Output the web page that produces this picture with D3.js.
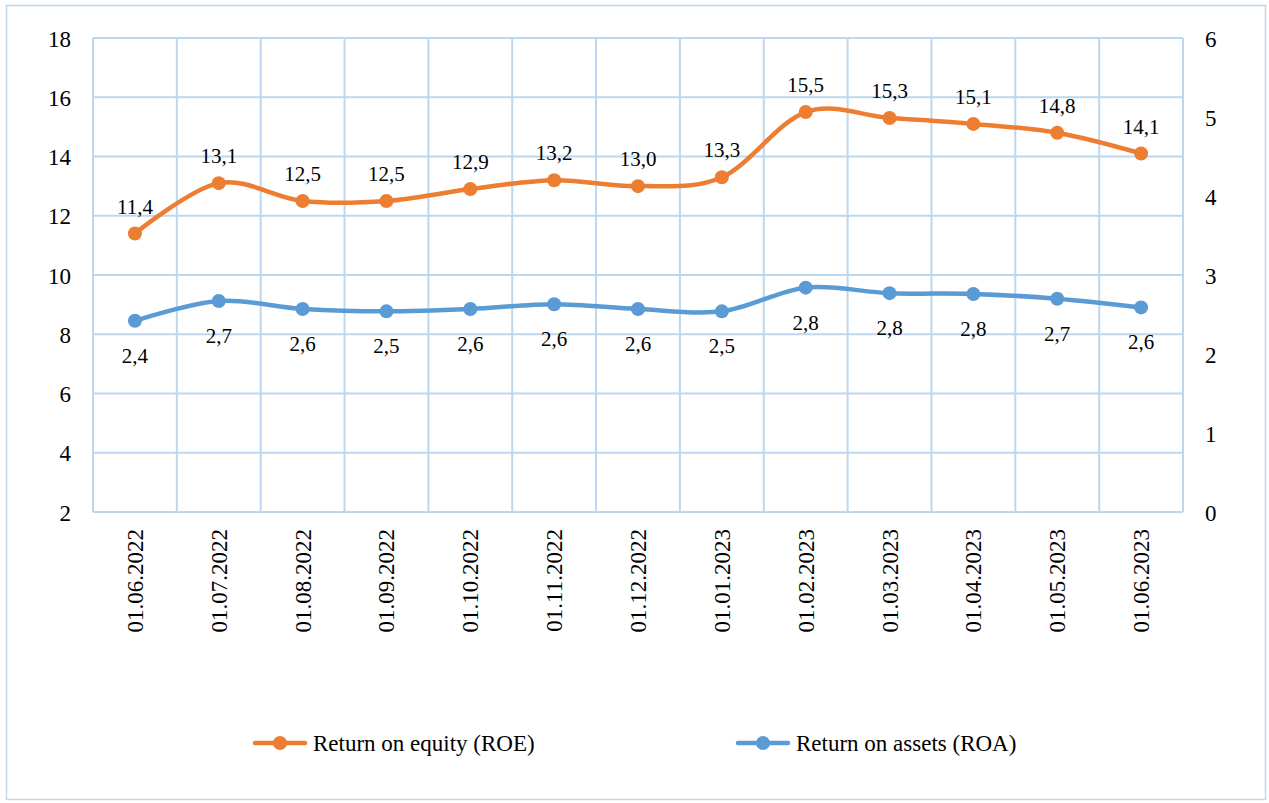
<!DOCTYPE html>
<html>
<head>
<meta charset="utf-8">
<script src="https://cdn.jsdelivr.net/npm/d3@7"></script>
<style>
  body { margin: 0; background: #fff; }
  svg text { font-family: "Liberation Serif", "DejaVu Serif", serif; fill: #000; }
</style>
</head>
<body>
<svg width="1269" height="803"></svg>
<script>
// dates on the x axis
var dates = ['01.06.2022','01.07.2022','01.08.2022','01.09.2022','01.10.2022','01.11.2022',
  '01.12.2022','01.01.2023','01.02.2023','01.03.2023','01.04.2023','01.05.2023','01.06.2023'];
// return on equity, left axis
var roe = [11.4, 13.1, 12.5, 12.5, 12.9, 13.2, 13.0, 13.3, 15.5, 15.3, 15.1, 14.8, 14.1];
// return on assets, right axis
var roa = [2.42, 2.67, 2.57, 2.54, 2.57, 2.63, 2.57, 2.54, 2.84, 2.77, 2.76, 2.70, 2.59];
var leftTicks = [2, 4, 6, 8, 10, 12, 14, 16, 18];
var rightTicks = [0, 1, 2, 3, 4, 5, 6];

var svg = d3.select('svg');
var plotLeft = 93, plotRight = 1183, plotTop = 38, plotBottom = 512;
var grid = '#bdd7ee';
var serif = '"Liberation Serif", "DejaVu Serif", serif';

// outer frame
svg.append('rect').attr('x', 6.5).attr('y', 5.5).attr('width', 1259).attr('height', 794)
  .attr('fill', 'none').attr('stroke', grid).attr('stroke-width', 1.5);

var x = d3.scaleBand().domain(dates).range([plotLeft, plotRight]);
var yL = d3.scaleLinear().domain([2, 18]).range([plotBottom, plotTop]);
var yR = d3.scaleLinear().domain([0, 6]).range([plotBottom, plotTop]);

// horizontal grid
svg.append('g').selectAll('line').data(leftTicks).enter().append('line')
  .attr('x1', plotLeft).attr('x2', plotRight)
  .attr('y1', function(d){ return yL(d); }).attr('y2', function(d){ return yL(d); })
  .attr('stroke', grid).attr('stroke-width', 2);

// vertical grid at band edges
var edges = dates.map(function(d){ return x(d); }).concat([plotRight]);
svg.append('g').selectAll('line').data(edges).enter().append('line')
  .attr('x1', function(d){ return d; }).attr('x2', function(d){ return d; })
  .attr('y1', plotTop).attr('y2', plotBottom)
  .attr('stroke', grid).attr('stroke-width', 2);

// left axis
var ax = svg.append('g').attr('transform', 'translate(' + (plotLeft - 22) + ',0)')
  .call(d3.axisLeft(yL).tickValues(leftTicks).tickSize(0).tickPadding(0));
ax.attr('font-family', serif);
ax.select('.domain').remove();
ax.selectAll('text').style('font-size', '23px').attr('dy', '0.35em');

// right axis
var ar = svg.append('g').attr('transform', 'translate(' + (plotRight + 22) + ',0)')
  .call(d3.axisRight(yR).tickValues(rightTicks).tickFormat(d3.format('d')).tickSize(0).tickPadding(0));
ar.attr('font-family', serif);
ar.select('.domain').remove();
ar.selectAll('text').style('font-size', '23px').attr('dy', '0.35em');

// x labels, rotated
svg.append('g').selectAll('text').data(dates).enter().append('text')
  .attr('transform', function(d){ return 'translate(' + (x(d) + x.bandwidth()/2 + 8) + ',529) rotate(-90)'; })
  .attr('text-anchor', 'end')
  .style('font-size', '23px')
  .text(function(d){ return d; });

var fmt = function(v){ return d3.format('.1f')(v).replace('.', ','); };
var cx = function(d, i){ return x(dates[i]) + x.bandwidth()/2; };

function drawSeries(vals, scale, color, labelDy){
  var line = d3.line().x(cx).y(function(d){ return scale(d); }).curve(d3.curveCatmullRom.alpha(0));
  svg.append('path').datum(vals).attr('d', line)
    .attr('fill', 'none').attr('stroke', color).attr('stroke-width', 4.5)
    .attr('stroke-linecap', 'round');
  svg.append('g').selectAll('circle').data(vals).enter().append('circle')
    .attr('cx', cx).attr('cy', function(d){ return scale(d); })
    .attr('r', 7).attr('fill', color);
  svg.append('g').selectAll('text').data(vals).enter().append('text')
    .attr('x', cx).attr('y', function(d){ return scale(d) + labelDy; })
    .attr('text-anchor', 'middle').style('font-size', '21px')
    .text(fmt);
}

drawSeries(roe, yL, '#ed7d31', -20);
drawSeries(roa, yR, '#5b9bd5', 42);

// legend
var legend = [
  {name: 'Return on equity (ROE)', color: '#ed7d31', x: 255},
  {name: 'Return on assets (ROA)', color: '#5b9bd5', x: 738}
];
var lg = svg.append('g').selectAll('g').data(legend).enter().append('g')
  .attr('transform', function(d){ return 'translate(' + d.x + ',743)'; });
lg.append('line').attr('x1', 0).attr('x2', 50).attr('stroke', function(d){ return d.color; })
  .attr('stroke-width', 4.5).attr('stroke-linecap', 'round');
lg.append('circle').attr('cx', 25).attr('r', 7).attr('fill', function(d){ return d.color; });
lg.append('text').attr('x', 58).attr('dy', '0.35em').style('font-size', '23px')
  .text(function(d){ return d.name; });
</script>
</body>
</html>
